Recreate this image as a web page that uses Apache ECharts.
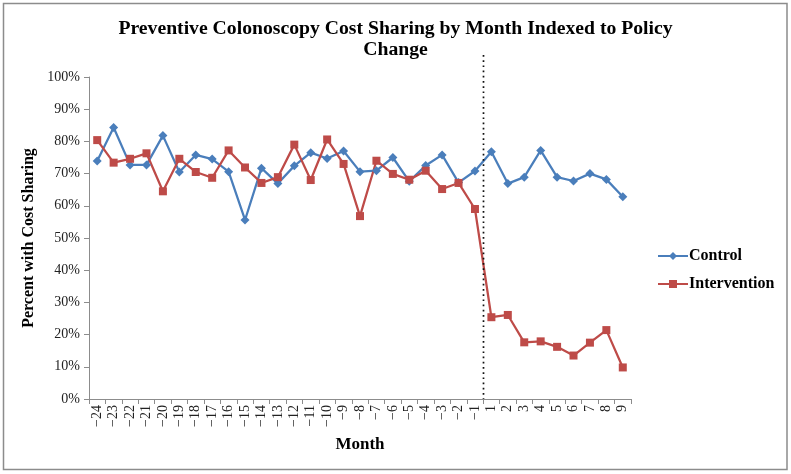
<!DOCTYPE html>
<html>
<head>
<meta charset="utf-8">
<script src="https://cdn.jsdelivr.net/npm/echarts@6/dist/echarts.min.js"></script>
<style>
html,body{margin:0;padding:0;background:#fff;}
#chart{width:791px;height:474px;}
</style>
</head>
<body>
<div id="chart"></div>
<script>
const months = ['−24','−23','−22','−21','−20','−19','−18','−17','−16','−15','−14','−13','−12','−11','−10','−9','−8','−7','−6','−5','−4','−3','−2','−1','1','2','3','4','5','6','7','8','9'];
const control = [73.9,84.3,72.7,72.7,81.8,70.5,75.8,74.5,70.6,55.6,71.7,66.9,72.4,76.5,74.7,77.0,70.6,70.9,75.0,67.6,72.5,75.8,67.2,70.8,76.8,66.9,68.9,77.2,68.9,67.7,70.0,68.2,62.8];
const intervention = [80.4,73.4,74.6,76.3,64.5,74.6,70.5,68.7,77.2,71.9,67.1,68.9,79.0,68.0,80.6,73.0,56.8,74.0,69.9,68.1,70.9,65.2,67.1,59.0,25.4,26.1,17.6,17.9,16.2,13.5,17.5,21.4,9.8];
const yTicks = [0,10,20,30,40,50,60,70,80,90,100];
const policyBefore = '−1', policyAfter = '1';

const serif = '"Liberation Serif","Times New Roman",serif';
const chart = echarts.init(document.getElementById('chart'), null, {renderer:'canvas'});
const option = {
  animation: false,
  backgroundColor: '#fff',
  title: {
    text: 'Preventive Colonoscopy Cost Sharing by Month Indexed to Policy\nChange',
    left: 'center', top: 13,
    textStyle: {fontFamily: serif, fontWeight: 'bold', fontSize: 19.7, lineHeight: 21, color: '#000'}
  },
  legend: {
    orient: 'vertical', left: 652, top: 243, itemWidth: 30, itemHeight: 10, itemGap: 12,
    textStyle: {fontFamily: serif, fontWeight: 'bold', fontSize: 16, color: '#000', padding:[0,0,0,-4]},
    data: ['Control','Intervention']
  },
  grid: {left: 89, right: 160, top: 77, bottom: 75},
  xAxis: {
    type: 'category', data: months, boundaryGap: true,
    name: 'Month', nameLocation: 'middle', nameGap: 37,
    nameTextStyle: {fontFamily: serif, fontWeight: 'bold', fontSize: 17, color: '#000'},
    axisLine: {lineStyle: {color: '#8c8c8c', width: 1}},
    axisTick: {show: true, length: 5, lineStyle: {color: '#8c8c8c'}},
    axisLabel: {rotate: 90, interval: 0, margin: 6, fontFamily: serif, fontSize: 14, color: '#222'},
    splitLine: {show: false}
  },
  yAxis: {
    type: 'value', min: yTicks[0], max: yTicks[yTicks.length-1], interval: 10,
    name: 'Percent with Cost Sharing', nameLocation: 'middle', nameGap: 47, nameRotate: 90,
    nameTextStyle: {fontFamily: serif, fontWeight: 'bold', fontSize: 16, color: '#000'},
    axisLine: {show: true, lineStyle: {color: '#8c8c8c', width: 1}},
    axisTick: {show: true, length: 5, lineStyle: {color: '#8c8c8c'}},
    axisLabel: {formatter: '{value}%', margin: 9, fontFamily: serif, fontSize: 14, color: '#222'},
    splitLine: {show: false}
  },
  series: [
    {name: 'Control', type: 'line', data: control, symbol: 'diamond', symbolSize: 9,
     lineStyle: {color: '#4a7ebb', width: 2.25}, itemStyle: {color: '#4a7ebb'}},
    {name: 'Intervention', type: 'line', data: intervention, symbol: 'rect', symbolSize: 8,
     lineStyle: {color: '#be4b48', width: 2.25}, itemStyle: {color: '#be4b48'}}
  ]
};
chart.setOption(option);
const xa = chart.convertToPixel({xAxisIndex: 0}, policyBefore);
const xb = chart.convertToPixel({xAxisIndex: 0}, policyAfter);
const xm = Math.round((xa + xb) / 2) + 0.5;
const yBottom = chart.convertToPixel({yAxisIndex: 0}, 0);
chart.setOption({
  graphic: [
    {type: 'line', shape: {x1: xm, y1: 55, x2: xm, y2: yBottom}, z: 10,
     style: {stroke: '#111', lineWidth: 1.7, lineDash: [1.7, 3.5]}},
    {type: 'rect', shape: {x: 3.5, y: 3.5, width: 783.5, height: 466}, z: -1,
     style: {stroke: '#8c8c8c', lineWidth: 1.5, fill: 'none'}}
  ]
});
</script>
</body>
</html>
